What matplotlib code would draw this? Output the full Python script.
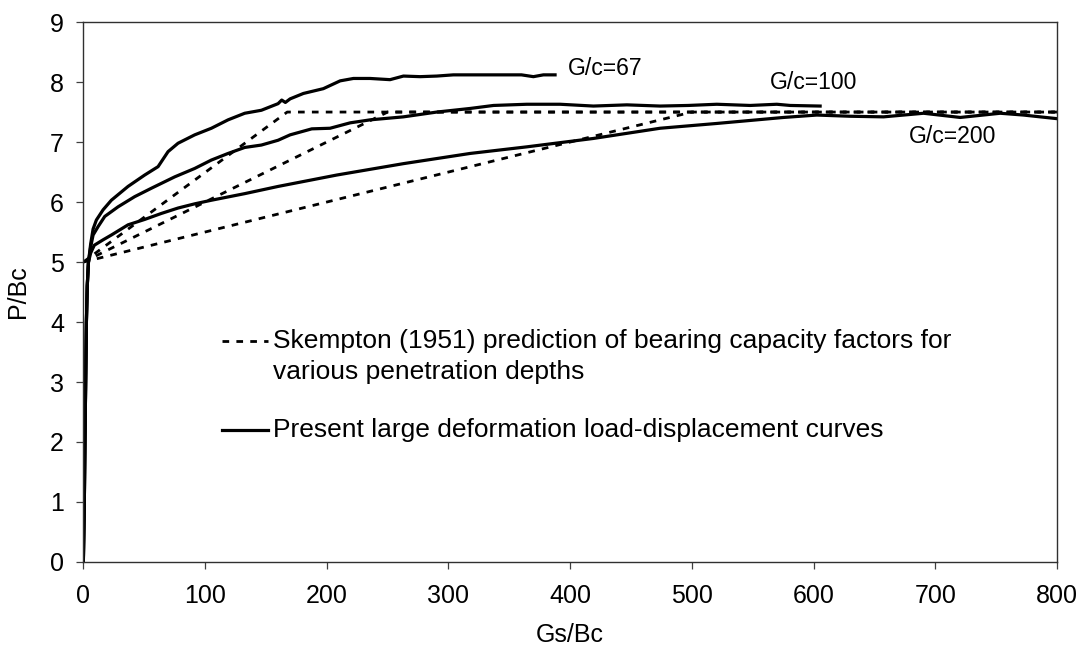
import matplotlib
matplotlib.use("Agg")
import matplotlib.pyplot as plt

plt.rcParams["font.family"] = ["Liberation Sans", "DejaVu Sans"]

# Large deformation load-displacement curves (Gs/Bc, P/Bc)
gc67_x = [0, 0.8, 1.3, 1.9, 2.5, 3.2, 4.2, 6, 8, 10.7, 16.2, 23, 36.7, 50.4, 61.4, 69.6,
          77.8, 91.5, 105.2, 118.9, 132.6, 146.3, 155, 160, 163, 166, 169.9, 180.8, 197.2,
          211, 221.9, 235.6, 252, 263, 276.7, 290.4, 304, 317.8, 350.7, 360, 369.8, 378, 387.6]
gc67_y = [0, 1.0, 2.0, 3.0, 4.0, 4.6, 5.0, 5.3, 5.55, 5.7, 5.87, 6.03, 6.26, 6.45, 6.59, 6.84,
          6.98, 7.12, 7.23, 7.37, 7.48, 7.53, 7.6, 7.64, 7.70, 7.66, 7.72, 7.81, 7.89,
          8.02, 8.06, 8.06, 8.04, 8.1, 8.09, 8.1, 8.12, 8.12, 8.12, 8.12, 8.09, 8.12, 8.12]

gc100_x = [0, 0.8, 1.3, 1.9, 2.5, 3.2, 4.2, 6, 8, 12.1, 17.6, 28.5, 42.2, 55.9, 75.1, 91.5,
           105.2, 118.9, 132.6, 146.3, 160, 169.9, 187.7, 202.7, 219.2, 235.6, 263, 290.4,
           317.8, 337, 364.4, 391.8, 419.1, 446.6, 473.9, 497, 520.5, 547.9, 569.8, 580.8, 605.4]
gc100_y = [0, 1, 2, 3, 4, 4.6, 5.0, 5.25, 5.45, 5.59, 5.76, 5.92, 6.09, 6.23, 6.42, 6.56,
           6.7, 6.81, 6.91, 6.95, 7.03, 7.12, 7.22, 7.23, 7.32, 7.37, 7.42, 7.5,
           7.56, 7.61, 7.63, 7.63, 7.6, 7.62, 7.6, 7.61, 7.63, 7.61, 7.63, 7.61, 7.6]

gc200_x = [0, 0.8, 1.3, 1.9, 2.5, 3.2, 4.2, 6, 9, 16.2, 23, 36.7, 50.4, 64.1, 77.8, 91.5,
           105.2, 132.6, 160, 208.2, 263, 317.8, 364.4, 419.1, 473.9, 520.5, 575.3, 602.7,
           630, 657.5, 690.4, 720.5, 753.4, 772.5, 800]
gc200_y = [0, 1, 2, 3, 4, 4.6, 5.0, 5.15, 5.28, 5.37, 5.45, 5.62, 5.71, 5.81, 5.9, 5.97,
           6.03, 6.14, 6.26, 6.45, 6.64, 6.81, 6.92, 7.06, 7.23, 7.31, 7.41, 7.45,
           7.43, 7.42, 7.48, 7.41, 7.48, 7.45, 7.39]

# Skempton (1951) bearing capacity factors: Nc rises from 5 to 7.5 at D/B = 2.5
sk67_x = [0, 167.5, 800]
sk100_x = [0, 250, 800]
sk200_x = [0, 500, 800]
sk_y = [5.0, 7.5, 7.5]

curve_labels = ["G/c=67", "G/c=100", "G/c=200"]
label_pos = [(398, 8.23), (564, 8.0), (678, 7.1)]

fig = plt.figure(figsize=(10.91, 6.53), dpi=100)
ax = fig.add_axes([0.0764, 0.1394, 0.8924, 0.8268])

dash = dict(color="black", lw=2.0, dashes=(2.4, 2.6))
for sx in (sk67_x, sk100_x, sk200_x):
    ax.plot(sx, sk_y, **dash)

for cx, cy in ((gc67_x, gc67_y), (gc100_x, gc100_y), (gc200_x, gc200_y)):
    ax.plot(cx, cy, color="black", lw=2.3, solid_joinstyle="round")

for text, (tx, ty) in zip(curve_labels, label_pos):
    ax.text(tx, ty, text, fontsize=16.6, ha="left", va="center")

# legend drawn by hand so the dashed sample sits on the first text line
ax.plot([0.1422, 0.190], [0.4093, 0.4093], transform=ax.transAxes, **dash)
ax.plot([0.1422, 0.190], [0.2439, 0.2439], transform=ax.transAxes, color="black", lw=2.3)
ax.text(0.1952, 0.4093, "Skempton (1951) prediction of bearing capacity factors for",
        transform=ax.transAxes, fontsize=19, va="center", ha="left")
ax.text(0.1952, 0.4093 - 0.057, "various penetration depths",
        transform=ax.transAxes, fontsize=19, va="center", ha="left")
ax.text(0.1952, 0.2439, "Present large deformation load-displacement curves",
        transform=ax.transAxes, fontsize=19, va="center", ha="left")

ax.set_xlim(0, 800)
ax.set_ylim(0, 9)
ax.set_xticks(range(0, 801, 100))
ax.set_yticks(range(0, 10))
ax.tick_params(direction="out", length=5, width=0.9, labelsize=18, color="#404040")
ax.tick_params(axis="x", pad=11)
ax.tick_params(axis="y", pad=9)
for sp in ax.spines.values():
    sp.set_linewidth(1.0)
    sp.set_color("#303030")

ax.set_xlabel("Gs/Bc", fontsize=18)
ax.set_ylabel("P/Bc", fontsize=18)
ax.xaxis.set_label_coords(0.5, -0.113)
ax.yaxis.set_label_coords(-0.055, 0.5)

fig.savefig("out.png", dpi=100)
